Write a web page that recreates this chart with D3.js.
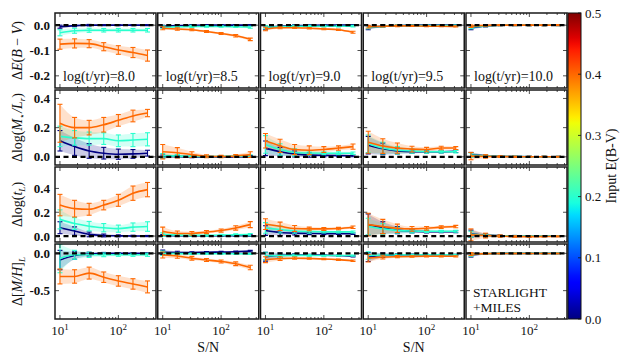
<!DOCTYPE html>
<html>
<head>
<meta charset="utf-8">
<script src="https://cdn.jsdelivr.net/npm/d3@7"></script>
<style>
  body { margin: 0; background: #fff; }
  text { font-family: "Liberation Serif", "DejaVu Serif", serif; fill: #111; }
</style>
</head>
<body>
<div id="chart"></div>
<script>
// S/N grid and the five ages
var snr  = [10, 17.8, 31.6, 56.2, 100, 178, 316];
var ages = ["8.0", "8.5", "9.0", "9.5", "10.0"];
// input E(B-V) of the three series
var ebvIn = [0.0, 0.2, 0.4];

// Delta E(B-V): [age][series][point]
var ebvMean = [
  [[-0.006,-0.002,0,0,0,0,0], [-0.03,-0.022,-0.02,-0.02,-0.02,-0.02,-0.02], [-0.075,-0.072,-0.073,-0.085,-0.098,-0.108,-0.12]],
  [[-0.005,-0.002,-0.001,0,0,0,0], [-0.008,-0.006,-0.005,-0.005,-0.005,-0.006,-0.008], [-0.012,-0.015,-0.018,-0.025,-0.033,-0.042,-0.056]],
  [[-0.01,-0.004,-0.002,-0.001,0,0,0], [-0.008,-0.006,-0.004,-0.004,-0.004,-0.004,-0.004], [-0.015,-0.01,-0.01,-0.012,-0.015,-0.018,-0.028]],
  [[-0.01,-0.004,-0.002,0,0,0,0], [-0.008,-0.004,-0.002,-0.002,-0.002,-0.002,-0.002], [-0.006,-0.004,-0.003,-0.003,-0.004,-0.004,-0.005]],
  [[-0.01,-0.003,0,0,0,0,0], [-0.008,-0.003,0,0,0,0,0], [-0.004,-0.001,0,0,0,0,0]]
];
var ebvErr = [
  [[0.006,0.004,0.003,0.002,0.002,0.002,0.002], [0.012,0.01,0.008,0.007,0.007,0.007,0.007], [0.02,0.018,0.016,0.016,0.017,0.02,0.022]],
  [[0.004,0.003,0.003,0.002,0.002,0.002,0.002], [0.005,0.004,0.004,0.003,0.003,0.003,0.004], [0.006,0.005,0.004,0.004,0.004,0.005,0.005]],
  [[0.008,0.004,0.003,0.002,0.002,0.002,0.002], [0.006,0.004,0.003,0.003,0.003,0.003,0.003], [0.007,0.004,0.003,0.003,0.003,0.003,0.004]],
  [[0.008,0.004,0.003,0.002,0.002,0.002,0.002], [0.006,0.004,0.003,0.002,0.002,0.002,0.002], [0.005,0.003,0.003,0.002,0.002,0.002,0.002]],
  [[0.008,0.004,0.002,0.002,0.002,0.002,0.002], [0.006,0.003,0.002,0.002,0.002,0.002,0.002], [0.005,0.003,0.002,0.002,0.002,0.002,0.002]]
];

// Delta log(M/L)
var mlMean = [
  [[0.11,0.07,0.04,0.025,0.018,0.02,0.025], [0.14,0.13,0.125,0.125,0.11,0.115,0.12], [0.23,0.2,0.2,0.22,0.25,0.28,0.3]],
  [[0.003,0.002,0,0,0,0,0.002], [0.008,0.005,0.003,0.002,0.003,0.004,0.006], [0.035,0.028,0.015,0.004,0.002,0.006,0.015]],
  [[0.058,0.035,0.02,0.012,0.01,0.008,0.007], [0.085,0.05,0.03,0.026,0.025,0.025,0.025], [0.11,0.075,0.05,0.045,0.05,0.06,0.07]],
  [[0.08,0.055,0.04,0.035,0.035,0.035,0.038], [0.09,0.06,0.045,0.04,0.035,0.035,0.035], [0.1,0.074,0.06,0.053,0.05,0.06,0.06]],
  [[0.015,0.006,0.003,0.002,0.001,0.001,0.001], [0.012,0.006,0.003,0.002,0.001,0.001,0.001], [0.005,0.003,0.002,0.001,0.001,0.001,0.001]]
];
var mlErr = [
  [[0.07,0.06,0.05,0.04,0.035,0.03,0.02], [0.07,0.05,0.045,0.04,0.04,0.045,0.045], [0.13,0.07,0.05,0.05,0.04,0.04,0.025]],
  [[0.01,0.008,0.006,0.005,0.005,0.005,0.006], [0.015,0.01,0.008,0.006,0.006,0.006,0.008], [0.05,0.035,0.02,0.01,0.008,0.01,0.02]],
  [[0.05,0.03,0.02,0.015,0.01,0.008,0.006], [0.06,0.04,0.025,0.015,0.01,0.01,0.008], [0.05,0.045,0.035,0.03,0.02,0.015,0.018]],
  [[0.06,0.04,0.02,0.01,0.008,0.008,0.008], [0.06,0.04,0.025,0.015,0.01,0.008,0.008], [0.075,0.05,0.035,0.02,0.015,0.012,0.01]],
  [[0.015,0.008,0.004,0.003,0.003,0.003,0.003], [0.015,0.008,0.004,0.003,0.003,0.003,0.003], [0.025,0.012,0.006,0.004,0.003,0.003,0.003]]
];

// Delta log(t_L)
var tMean = [
  [[0.07,0.042,0.014,0.005,0.002,0.001,0], [0.14,0.105,0.083,0.07,0.062,0.075,0.08], [0.26,0.23,0.225,0.26,0.3,0.36,0.39]],
  [[0.005,0.003,0.002,0.002,0.002,0.003,0.004], [0.012,0.008,0.006,0.006,0.008,0.01,0.012], [0.04,0.022,0.022,0.033,0.046,0.068,0.096]],
  [[0.046,0.03,0.024,0.022,0.02,0.02,0.019], [0.068,0.055,0.043,0.038,0.036,0.035,0.035], [0.1,0.082,0.063,0.06,0.06,0.063,0.074]],
  [[0.096,0.07,0.05,0.04,0.037,0.036,0.036], [0.08,0.06,0.048,0.042,0.04,0.04,0.04], [0.096,0.08,0.065,0.06,0.065,0.075,0.08]],
  [[0.02,0.008,0.003,0.001,0,0,0], [0.015,0.006,0.002,0.001,0,0,0], [0.01,0.004,0,-0.004,-0.005,-0.004,-0.003]]
];
var tErr = [
  [[0.05,0.035,0.02,0.012,0.008,0.006,0.005], [0.08,0.05,0.04,0.035,0.03,0.035,0.04], [0.09,0.07,0.05,0.04,0.05,0.06,0.06]],
  [[0.008,0.006,0.005,0.005,0.005,0.005,0.006], [0.015,0.01,0.008,0.007,0.007,0.008,0.01], [0.035,0.02,0.015,0.013,0.013,0.018,0.025]],
  [[0.04,0.025,0.015,0.01,0.008,0.007,0.006], [0.045,0.03,0.02,0.015,0.01,0.008,0.008], [0.045,0.035,0.025,0.015,0.012,0.01,0.01]],
  [[0.09,0.05,0.03,0.015,0.01,0.008,0.008], [0.07,0.045,0.025,0.015,0.01,0.008,0.008], [0.095,0.06,0.035,0.02,0.015,0.012,0.01]],
  [[0.03,0.012,0.006,0.004,0.003,0.003,0.003], [0.025,0.01,0.005,0.004,0.003,0.003,0.003], [0.05,0.02,0.01,0.006,0.005,0.004,0.004]]
];

// Delta [M/H]_L
var mhMean = [
  [[-0.09,-0.03,-0.01,0,0,0,0], [-0.07,-0.02,-0.02,-0.02,-0.02,-0.02,-0.02], [-0.31,-0.31,-0.265,-0.32,-0.37,-0.41,-0.45]],
  [[0.013,0.012,0.012,0.015,0.018,0.022,0.03], [0,-0.003,-0.005,-0.005,-0.005,-0.006,-0.008], [-0.022,-0.035,-0.066,-0.09,-0.11,-0.14,-0.19]],
  [[-0.045,-0.025,-0.022,-0.022,-0.025,-0.03,-0.04], [-0.035,-0.03,-0.028,-0.028,-0.03,-0.03,-0.03], [-0.085,-0.07,-0.065,-0.07,-0.075,-0.085,-0.1]],
  [[-0.05,-0.025,-0.02,-0.02,-0.02,-0.02,-0.02], [-0.03,-0.022,-0.02,-0.02,-0.02,-0.02,-0.02], [-0.066,-0.05,-0.045,-0.042,-0.04,-0.04,-0.04]],
  [[-0.02,-0.005,0,0,0,0,0], [-0.015,-0.004,0,0,0,0,0], [-0.01,-0.004,-0.002,-0.002,-0.002,-0.002,-0.002]]
];
var mhErr = [
  [[0.13,0.05,0.025,0.012,0.008,0.006,0.005], [0.19,0.06,0.035,0.025,0.02,0.02,0.02], [0.1,0.09,0.08,0.07,0.07,0.07,0.08]],
  [[0.03,0.015,0.01,0.008,0.008,0.008,0.01], [0.03,0.015,0.01,0.008,0.008,0.008,0.008], [0.04,0.03,0.025,0.02,0.02,0.025,0.03]],
  [[0.06,0.03,0.015,0.01,0.008,0.008,0.008], [0.05,0.025,0.015,0.01,0.008,0.008,0.008], [0.04,0.025,0.015,0.01,0.01,0.01,0.01]],
  [[0.06,0.03,0.015,0.01,0.008,0.008,0.008], [0.05,0.02,0.012,0.008,0.008,0.008,0.008], [0.05,0.025,0.015,0.01,0.008,0.008,0.008]],
  [[0.03,0.01,0.006,0.005,0.005,0.005,0.005], [0.025,0.01,0.006,0.005,0.005,0.005,0.005], [0.02,0.008,0.005,0.004,0.004,0.004,0.004]]
];

// rows of the grid
var rows = [
  {mean: ebvMean, err: ebvErr, domain: [-0.248, 0.048], ticks: [0, -0.1, -0.2], fmt: ".1f"},
  {mean: mlMean,  err: mlErr,  domain: [-0.056, 0.458], ticks: [0, 0.2, 0.4],   fmt: ".1f"},
  {mean: tMean,   err: tErr,   domain: [-0.05, 0.58],   ticks: [0, 0.2, 0.4],   fmt: ".1f"},
  {mean: mhMean,  err: mhErr,  domain: [-0.88, 0.125],  ticks: [0, -0.5],       fmt: ".1f"}
];
var cbTicks = [0.0, 0.1, 0.2, 0.3, 0.4, 0.5];

// layout
var W = 629, H = 364;
var left0 = 55, top0 = 13, pw = 101, ph = 75, gx = 1.75, gy = 2;

var svg = d3.select("#chart").append("svg")
    .attr("width", W).attr("height", H);

// matplotlib jet
var jr = d3.scaleLinear().domain([0, 0.35, 0.66, 0.89, 1]).range([0, 0, 1, 1, 0.5]).clamp(true);
var jg = d3.scaleLinear().domain([0, 0.125, 0.375, 0.64, 0.91, 1]).range([0, 0, 1, 1, 0, 0]).clamp(true);
var jb = d3.scaleLinear().domain([0, 0.11, 0.34, 0.65, 1]).range([0.5, 1, 1, 0, 0]).clamp(true);
function jet(t) {
  return d3.rgb(255 * jr(t), 255 * jg(t), 255 * jb(t)).formatHex();
}
var color = function(e) { return jet(e / 0.5); };

var x = d3.scaleLog().domain([Math.pow(10, 0.915), Math.pow(10, 2.645)]).range([0, pw]);
var xMajor = [10, 100];
var xMinor = [20, 30, 40, 50, 60, 70, 80, 90, 200, 300, 400];

var defs = svg.append("defs");

rows.forEach(function(row, ri) {
  var y = d3.scaleLinear().domain(row.domain).range([ph, 0]);
  var fmt = d3.format(row.fmt);

  ages.forEach(function(age, ci) {
    var px = left0 + ci * (pw + gx), py = top0 + ri * (ph + gy);
    var g = svg.append("g").attr("transform", "translate(" + px + "," + py + ")");
    var cid = "clip" + ri + "_" + ci;
    defs.append("clipPath").attr("id", cid)
      .append("rect").attr("width", pw).attr("height", ph);
    var plot = g.append("g").attr("clip-path", "url(#" + cid + ")");

    var series = ebvIn.map(function(e, si) {
      return {
        col: color(e),
        pts: snr.map(function(s, k) {
          return {s: s, m: row.mean[ci][si][k], e: row.err[ci][si][k]};
        })
      };
    });

    var area = d3.area().curve(d3.curveMonotoneX)
        .x(function(d) { return x(d.s); })
        .y0(function(d) { return y(d.m - d.e); })
        .y1(function(d) { return y(d.m + d.e); });
    var line = d3.line().curve(d3.curveMonotoneX)
        .x(function(d) { return x(d.s); })
        .y(function(d) { return y(d.m); });

    // shaded bands
    series.forEach(function(sr) {
      plot.append("path").attr("d", area(sr.pts))
        .attr("fill", sr.col).attr("fill-opacity", 0.2).attr("stroke", "none");
    });

    // lines + error bars
    series.forEach(function(sr) {
      plot.append("path").attr("d", line(sr.pts))
        .attr("fill", "none").attr("stroke", sr.col).attr("stroke-width", 1.6);
      var eb = plot.append("g").attr("stroke", sr.col).attr("stroke-width", 1.1);
      sr.pts.forEach(function(d) {
        var cx = x(d.s), y1 = y(d.m + d.e), y2 = y(d.m - d.e);
        eb.append("line").attr("x1", cx).attr("x2", cx).attr("y1", y1).attr("y2", y2);
        eb.append("line").attr("x1", cx - 2.5).attr("x2", cx + 2.5).attr("y1", y1).attr("y2", y1);
        eb.append("line").attr("x1", cx - 2.5).attr("x2", cx + 2.5).attr("y1", y2).attr("y2", y2);
      });
    });

    // zero line
    plot.append("line").attr("x1", 0).attr("x2", pw)
      .attr("y1", y(0)).attr("y2", y(0))
      .attr("stroke", "#000").attr("stroke-width", 2.2)
      .attr("stroke-dasharray", "5,3.5");

    // inward ticks
    var tk = g.append("g").attr("stroke", "#222").attr("stroke-width", 0.8);
    xMajor.forEach(function(v) {
      tk.append("line").attr("x1", x(v)).attr("x2", x(v)).attr("y1", ph).attr("y2", ph - 4);
      tk.append("line").attr("x1", x(v)).attr("x2", x(v)).attr("y1", 0).attr("y2", 4);
    });
    xMinor.forEach(function(v) {
      tk.append("line").attr("x1", x(v)).attr("x2", x(v)).attr("y1", ph).attr("y2", ph - 2);
      tk.append("line").attr("x1", x(v)).attr("x2", x(v)).attr("y1", 0).attr("y2", 2);
    });
    row.ticks.forEach(function(v) {
      tk.append("line").attr("x1", 0).attr("x2", 4).attr("y1", y(v)).attr("y2", y(v));
      tk.append("line").attr("x1", pw).attr("x2", pw - 4).attr("y1", y(v)).attr("y2", y(v));
    });

    g.append("rect").attr("width", pw).attr("height", ph)
      .attr("fill", "none").attr("stroke", "#1a1a1a").attr("stroke-width", 1.5);

    if (ci === 0) {
      row.ticks.forEach(function(v) {
        g.append("text").attr("x", -5).attr("y", y(v) + 4.5)
          .attr("text-anchor", "end").attr("font-size", 13).attr("font-weight", "bold")
          .text(fmt(v).replace("−", "-"));
      });
    }
    if (ri === 0) {
      g.append("text").attr("x", 8).attr("y", 68).attr("font-size", 14)
        .text("log(t/yr)=" + age);
    }
    if (ri === rows.length - 1) {
      xMajor.forEach(function(v) {
        var t = g.append("text").attr("x", x(v)).attr("y", ph + 16)
          .attr("text-anchor", "middle").attr("font-size", 13);
        t.append("tspan").text("10");
        t.append("tspan").attr("dy", -5).attr("font-size", 9).text(Math.round(Math.log10(v)));
      });
      if (ci === 1 || ci === 3) {
        g.append("text").attr("x", pw / 2).attr("y", ph + 33)
          .attr("text-anchor", "middle").attr("font-size", 14).text("S/N");
      }
      if (ci === 4) {
        g.append("text").attr("x", 7).attr("y", 53).attr("font-size", 13.5).text("STARLIGHT");
        g.append("text").attr("x", 7).attr("y", 68).attr("font-size", 13.5).text("+MILES");
      }
    }
  });
});

// y axis labels
var ylab = [
  function(t) {
    t.append("tspan").text("ΔE(B − V)");
  },
  function(t) {
    t.append("tspan").text("Δlog(");
    t.append("tspan").attr("font-style", "italic").text("M");
    t.append("tspan").attr("font-size", 9).attr("dy", 3).text("⋆");
    t.append("tspan").attr("dy", -3).attr("font-style", "italic").text("/L");
    t.append("tspan").attr("font-size", 9).attr("dy", 3).attr("font-style", "italic").text("r");
    t.append("tspan").attr("dy", -3).text(")");
  },
  function(t) {
    t.append("tspan").text("Δlog(");
    t.append("tspan").attr("font-style", "italic").text("t");
    t.append("tspan").attr("font-size", 9).attr("dy", 3).attr("font-style", "italic").text("L");
    t.append("tspan").attr("dy", -3).text(")");
  },
  function(t) {
    t.append("tspan").text("Δ[");
    t.append("tspan").attr("font-style", "italic").text("M/H");
    t.append("tspan").text("]");
    t.append("tspan").attr("font-size", 9).attr("dy", 3).attr("font-style", "italic").text("L");
  }
];
ylab.forEach(function(fn, ri) {
  var cy = top0 + ri * (ph + gy) + ph / 2;
  var t = svg.append("text").attr("font-size", 14).attr("text-anchor", "middle")
    .attr("transform", "translate(22," + cy + ") rotate(-90)");
  fn(t);
});
// italic letters in row 1 label
svg.selectAll("text").filter(function() { return this.textContent === "ΔE(B − V)"; })
  .each(function() {
    var t = d3.select(this); t.selectAll("tspan").remove();
    t.append("tspan").text("Δ");
    t.append("tspan").attr("font-style", "italic").text("E");
    t.append("tspan").text("(");
    t.append("tspan").attr("font-style", "italic").text("B");
    t.append("tspan").text(" − ");
    t.append("tspan").attr("font-style", "italic").text("V");
    t.append("tspan").text(")");
  });

// colourbar
var cbx = 568, cbw = 13, cbTop = top0, cbBot = top0 + 4 * ph + 3 * gy;
var cy = d3.scaleLinear().domain([0, 0.5]).range([cbBot, cbTop]);
var grad = defs.append("linearGradient").attr("id", "jetgrad")
  .attr("x1", 0).attr("x2", 0).attr("y1", 1).attr("y2", 0);
d3.range(0, 1.0001, 0.02).forEach(function(t) {
  grad.append("stop").attr("offset", t).attr("stop-color", jet(t));
});
svg.append("rect").attr("x", cbx).attr("y", cbTop).attr("width", cbw).attr("height", cbBot - cbTop)
  .attr("fill", "url(#jetgrad)").attr("stroke", "#111").attr("stroke-width", 1);
cbTicks.forEach(function(v) {
  svg.append("line").attr("x1", cbx + cbw - 3).attr("x2", cbx + cbw)
    .attr("y1", cy(v)).attr("y2", cy(v)).attr("stroke", "#111").attr("stroke-width", 0.8);
  svg.append("text").attr("x", cbx + cbw + 4).attr("y", cy(v) + 4.5)
    .attr("font-size", 13).text(d3.format(".1f")(v));
});
svg.append("text").attr("font-size", 14).attr("text-anchor", "middle")
  .attr("transform", "translate(616," + ((cbTop + cbBot) / 2) + ") rotate(-90)")
  .text("Input E(B-V)");
</script>
</body>
</html>
